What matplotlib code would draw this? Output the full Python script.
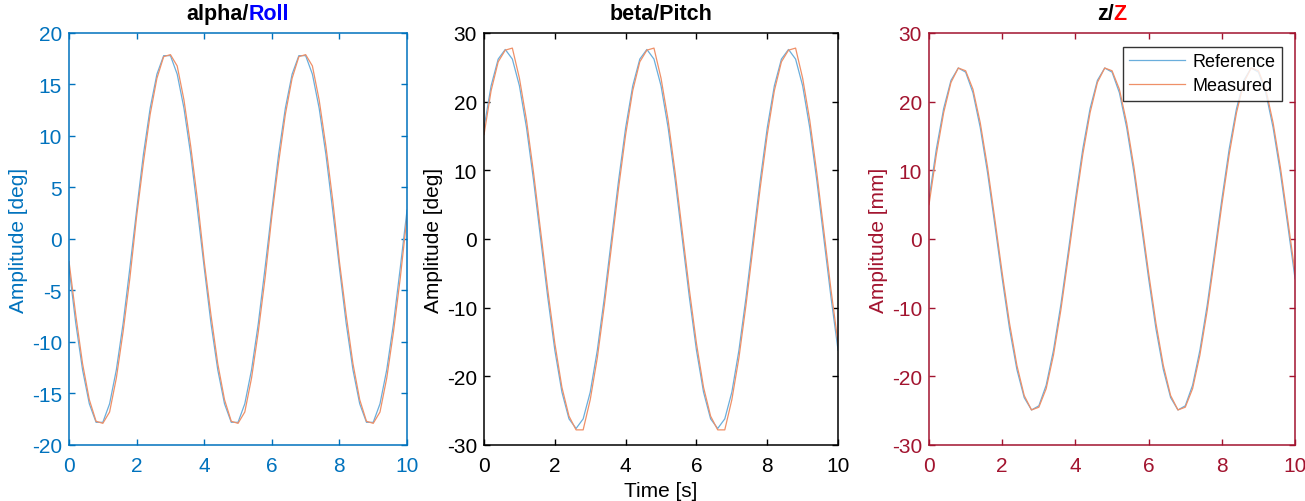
import matplotlib
matplotlib.use('Agg')
import matplotlib.pyplot as plt
import numpy as np

plt.rcParams['font.family'] = ['Liberation Sans', 'DejaVu Sans']
plt.rcParams['axes.unicode_minus'] = False

# time axis, 0.2 s steps from 0 to 10 s
time_s = np.arange(51) * 0.2

# alpha / Roll [deg]
roll_ref = [-2.8, -8.2, -12.7, -16.0, -17.8, -17.8, -16.0, -12.7, -8.2, -2.8,
            2.8, 8.2, 12.7, 16.0, 17.8, 17.8, 16.0, 12.7, 8.2, 2.8,
            -2.8, -8.2, -12.7, -16.0, -17.8, -17.8, -16.0, -12.7, -8.2, -2.8,
            2.8, 8.2, 12.7, 16.0, 17.8, 17.8, 16.0, 12.7, 8.2, 2.8,
            -2.8, -8.2, -12.7, -16.0, -17.8, -17.8, -16.0, -12.7, -8.2, -2.8,
            2.8]
roll_meas = [-2.2, -7.4, -12.1, -15.6, -17.7, -17.9, -16.8, -13.5, -9.0, -3.8,
             2.2, 7.4, 12.1, 15.6, 17.7, 17.9, 16.8, 13.5, 9.0, 3.8,
             -2.2, -7.4, -12.1, -15.6, -17.7, -17.9, -16.8, -13.5, -9.0, -3.8,
             2.2, 7.4, 12.1, 15.6, 17.7, 17.9, 16.8, 13.5, 9.0, 3.8,
             -2.2, -7.4, -12.1, -15.6, -17.7, -17.9, -16.8, -13.5, -9.0, -3.8,
             2.2]

# beta / Pitch [deg]
pitch_ref = [16.2, 22.3, 26.2, 27.6, 26.2, 22.3, 16.2, 8.5, 0.0, -8.5,
             -16.2, -22.3, -26.2, -27.6, -26.2, -22.3, -16.2, -8.5, 0.0, 8.5,
             16.2, 22.3, 26.2, 27.6, 26.2, 22.3, 16.2, 8.5, 0.0, -8.5,
             -16.2, -22.3, -26.2, -27.6, -26.2, -22.3, -16.2, -8.5, 0.0, 8.5,
             16.2, 22.3, 26.2, 27.6, 26.2, 22.3, 16.2, 8.5, 0.0, -8.5,
             -16.2]
pitch_meas = [15.2, 21.6, 25.8, 27.5, 27.8, 23.4, 17.3, 9.6, 1.1, -7.4,
              -15.2, -21.6, -25.8, -27.8, -27.8, -23.4, -17.3, -9.6, -1.1, 7.4,
              15.2, 21.6, 25.8, 27.5, 27.8, 23.4, 17.3, 9.6, 1.1, -7.4,
              -15.2, -21.6, -25.8, -27.8, -27.8, -23.4, -17.3, -9.6, -1.1, 7.4,
              15.2, 21.6, 25.8, 27.5, 27.8, 23.4, 17.3, 9.6, 1.1, -7.4,
              -15.2]

# z / Z [mm]
z_ref = [5.8, 13.1, 19.0, 23.1, 24.9, 24.3, 21.3, 16.2, 9.6, 2.0,
         -5.8, -13.1, -19.0, -23.1, -24.9, -24.3, -21.3, -16.2, -9.6, -2.0,
         5.8, 13.1, 19.0, 23.1, 24.9, 24.3, 21.3, 16.2, 9.6, 2.0,
         -5.8, -13.1, -19.0, -23.1, -24.9, -24.3, -21.3, -16.2, -9.6, -2.0,
         5.8, 13.1, 19.0, 23.1, 24.9, 24.3, 21.3, 16.2, 9.6, 2.0,
         -5.8]
z_meas = [5.0, 12.3, 18.4, 22.8, 24.9, 24.5, 21.8, 16.9, 10.4, 2.8,
          -5.0, -12.3, -18.4, -22.8, -24.9, -24.5, -21.8, -16.9, -10.4, -2.8,
          5.0, 12.3, 18.4, 22.8, 24.9, 24.5, 21.8, 16.9, 10.4, 2.8,
          -5.0, -12.3, -18.4, -22.8, -24.9, -24.5, -21.8, -16.9, -10.4, -2.8,
          5.0, 12.3, 18.4, 22.8, 24.9, 24.5, 21.8, 16.9, 10.4, 2.8,
          -5.0]

ref_col = '#6AAEDC'
meas_col = '#EF9068'

fig = plt.figure(figsize=(13.05, 5.02), dpi=100)
ax1 = fig.add_axes([0.0529, 0.1116, 0.2590, 0.8207])
ax2 = fig.add_axes([0.3709, 0.1116, 0.2713, 0.8207])
ax3 = fig.add_axes([0.7119, 0.1116, 0.2805, 0.8207])

panels = [
    (ax1, roll_ref, roll_meas, (-20, 20), np.arange(-20, 21, 5), '#0072BD',
     'Amplitude [deg]', [('alpha/', 'black'), ('Roll', '#0000FF')]),
    (ax2, pitch_ref, pitch_meas, (-30, 30), np.arange(-30, 31, 10), '#000000',
     'Amplitude [deg]', [('beta/Pitch', 'black')]),
    (ax3, z_ref, z_meas, (-30, 30), np.arange(-30, 31, 10), '#A2142F',
     'Amplitude [mm]', [('z/', 'black'), ('Z', '#FF0000')]),
]

for ax, ref, meas, ylim, yticks, col, ylab, title in panels:
    ax.plot(time_s, ref, color=ref_col, lw=0.9, label='Reference')
    ax.plot(time_s, meas, color=meas_col, lw=0.9, label='Measured')
    ax.set_xlim(0, 10)
    ax.set_ylim(*ylim)
    ax.set_xticks(np.arange(0, 11, 2))
    ax.set_yticks(yticks)
    ax.tick_params(direction='in', length=4, width=1, top=True, right=True,
                   labelsize=15, colors=col, pad=5)
    ax.tick_params(axis='x', pad=8)
    for sp in ax.spines.values():
        sp.set_color(col)
        sp.set_linewidth(1.1)
    ax.set_ylabel(ylab, fontsize=15, color=col, labelpad=3)

    # multi-coloured bold title, chained pieces
    pieces = []
    prev = None
    for txt, c in title:
        if prev is None:
            t = ax.text(0.5, 1.022, txt, transform=ax.transAxes, ha='left',
                        va='bottom', fontsize=15.5, fontweight='bold', color=c)
        else:
            t = ax.annotate(txt, xy=(1, 0), xycoords=prev, ha='left',
                            va='bottom', fontsize=15.5, fontweight='bold', color=c)
        pieces.append(t)
        prev = t
    ax._title_pieces = pieces

ax2.set_xlabel('Time [s]', fontsize=15, labelpad=4)

leg = ax3.legend(loc='upper right', fontsize=13, frameon=True, fancybox=False,
                 borderaxespad=0.75, handlelength=3.1, handletextpad=0.4,
                 borderpad=0.35, labelspacing=0.42)
leg.get_frame().set_edgecolor('black')
leg.get_frame().set_linewidth(1.0)

# centre the coloured titles over each axes
fig.canvas.draw()
r = fig.canvas.get_renderer()
for ax in (ax1, ax2, ax3):
    pieces = ax._title_pieces
    x0 = pieces[0].get_window_extent(r).x0
    x1 = pieces[-1].get_window_extent(r).x1
    width_ax = (x1 - x0) / ax.get_window_extent(r).width
    pieces[0].set_x(0.5 - width_ax / 2)

fig.savefig('out.png', dpi=100)
